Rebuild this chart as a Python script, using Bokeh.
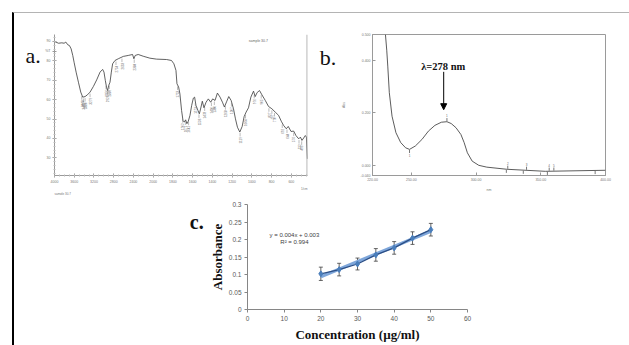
import numpy as np
from bokeh.plotting import figure
from bokeh.layouts import row, column
from bokeh.models import (ColumnDataSource, Label, Whisker, TeeHead, Title, Span,
                          FixedTicker, Arrow, NormalHead, Range1d, NumeralTickFormatter)
from bokeh.embed import file_html
from bokeh.resources import INLINE
from bokeh.core.properties import value

# ---------------- panel a: FTIR spectrum ----------------
ir_wavenumber = [4000, 3919, 3852, 3805, 3771, 3731, 3697, 3663, 3630, 3603, 3562, 3515, 3468, 3428,
                 3380, 3333, 3279, 3212, 3145, 3077, 3024, 2997, 2970, 2943, 2923, 2902, 2875, 2848,
                 2822, 2774, 2707, 2606, 2505, 2418, 2391, 2364, 2303, 2202, 2067, 1966, 1864, 1814,
                 1790, 1769, 1759, 1742, 1729, 1712, 1698, 1685, 1671, 1658, 1644, 1627, 1610, 1593,
                 1580, 1566, 1546, 1532, 1515, 1502, 1485, 1464, 1441, 1417, 1397, 1373, 1349, 1322,
                 1298, 1278, 1254, 1234, 1210, 1186, 1166, 1146, 1122, 1098, 1078, 1058, 1034, 1010,
                 983, 966, 946, 922, 898, 864, 831, 797, 763, 729, 702, 678, 651, 631, 603, 576, 553,
                 525, 508, 492, 475, 458, 447, 437]
ir_transmittance = [90.0, 89.1, 89.3, 89.1, 89.7, 88.3, 87.9, 86.2, 82.8, 79.3, 74.2, 69.0, 63.9, 61.3,
                    61.6, 62.5, 63.9, 66.8, 70.2, 74.2, 75.6, 74.2, 69.9, 66.1, 64.7, 67.3, 69.0, 74.2,
                    78.5, 80.2, 81.1, 82.3, 82.8, 83.3, 81.1, 82.8, 83.3, 82.4, 81.4, 80.9, 80.7, 80.2,
                    78.5, 75.1, 68.2, 66.5, 63.0, 54.4, 49.3, 48.4, 49.6, 47.6, 48.9, 51.9, 57.0, 60.8,
                    61.3, 57.0, 54.4, 52.7, 56.2, 59.2, 55.8, 58.7, 60.4, 58.7, 60.4, 59.6, 63.4, 61.3,
                    58.7, 56.2, 59.2, 61.6, 59.6, 55.3, 50.1, 45.8, 43.3, 46.2, 51.3, 53.6, 55.8, 61.3,
                    64.4, 61.6, 63.7, 64.7, 62.5, 59.6, 56.5, 55.3, 53.6, 51.9, 48.9, 46.7, 45.0, 46.2,
                    43.6, 43.8, 41.5, 39.8, 40.7, 39.0, 40.2, 41.5, 40.7, 29.5]
ir_peak_wavenumbers = [3448, 3415, 3380, 3279, 2956, 2929, 2889, 2754, 2633, 2384, 1753, 1702, 1671,
                       1641, 1573, 1536, 1478, 1410, 1380, 1268, 1207, 1119, 1064, 976, 905, 827, 797,
                       770, 692, 644, 576, 522, 495]
ir_tick_wavenumbers = [4000, 3600, 3200, 2800, 2400, 2000, 1800, 1600, 1400, 1200, 1000, 800, 600]
ir_tick_transmittance = [30, 40, 50, 60, 70, 80, 85, 90]

# ---------------- panel b: UV spectrum ----------------
uv_wavelength = [230.0, 231.0, 231.8, 233.0, 235.1, 238.1, 241.8, 245.6, 248.6, 253.1, 258.2, 263.2,
                 268.2, 273.2, 277.5, 280.8, 284.5, 288.3, 290.8, 293.3, 297.0, 302.1, 308.3, 323.4,
                 353.5, 400.0]
uv_absorbance = [0.50, 0.44, 0.379, 0.277, 0.187, 0.124, 0.086, 0.066, 0.060, 0.073, 0.098, 0.130,
                 0.152, 0.164, 0.166, 0.159, 0.143, 0.117, 0.086, 0.047, 0.015, -0.001, -0.008, -0.016,
                 -0.024, -0.020]
uv_peak_wavelength = [277.5, 324.5, 339.0, 356.5, 360.1]
uv_valley_wavelength = [248.6, 323.4, 336.5, 355.1, 392.0]
uv_xticks = [220, 250, 300, 350, 400]
uv_yticks = [-0.04, 0.0, 0.2, 0.4, 0.5]

# ---------------- panel c: calibration curve ----------------
concentration = [20, 25, 30, 35, 40, 45, 50]
absorbance = [0.102, 0.114, 0.130, 0.156, 0.176, 0.204, 0.228]
abs_sd = [0.019, 0.018, 0.017, 0.018, 0.018, 0.018, 0.018]
c_xticks = [0, 10, 20, 30, 40, 50, 60]
c_yticks = [0, 0.05, 0.1, 0.15, 0.2, 0.25, 0.3]

SERIF = "Liberation Serif"
SANS = "Liberation Sans"
AX = "#9a9a9a"

# frames of plots in one row share the same top/bottom borders
TOP_ROW_BORDER_TOP, TOP_ROW_BORDER_BOTTOM = 21, 20
BOT_ROW_BORDER_TOP, BOT_ROW_BORDER_BOTTOM = 9, 36


def ir_pos(wn):
    # FTIR x axis: 4000-2000 at half scale, 2000-400 at full scale
    return np.interp(-np.asarray(wn, dtype=float), [-4000, -2000, -400], [0, 5, 13])


def letter_fig(x0, w, y0, h, bt, bb, x, y, txt, size, style):
    # frame spans the page region [x0, x0+w] x [y0+bt, y0+h-bb]; ranges given in page pixels
    f = figure(width=w, height=h, x_range=Range1d(x0, x0 + w),
               y_range=Range1d(y0 + h - bb, y0 + bt), title=None,
               x_axis_type=None, y_axis_type=None, output_backend="svg",
               toolbar_location=None, min_border_left=0, min_border_right=0,
               min_border_top=bt, min_border_bottom=bb)
    f.outline_line_color = None
    f.add_layout(Label(x=x, y=y, text=txt, text_font=SERIF, text_font_size=size,
                       text_font_style=style, text_color="#111111", text_align="left",
                       text_baseline="alphabetic"))
    return f


# ======== letters ========
la = letter_fig(14, 28, 13, 182, TOP_ROW_BORDER_TOP, TOP_ROW_BORDER_BOTTOM, 25, 54.5, "a.", "22px", "normal")
lb = letter_fig(312, 26, 13, 182, TOP_ROW_BORDER_TOP, TOP_ROW_BORDER_BOTTOM, 319.3, 56.7, "b.", "22px", "normal")
lc = letter_fig(14, 190, 195, 150, BOT_ROW_BORDER_TOP, BOT_ROW_BORDER_BOTTOM, 189.3, 221.7, "c.", "20px", "bold")

# ======== figure a ========
pa = figure(width=270, height=182, x_range=Range1d(0, 12.82), y_range=Range1d(20.9, 93.6),
            title=None, output_backend="svg", toolbar_location=None,
            min_border_left=12, min_border_right=5,
            min_border_top=TOP_ROW_BORDER_TOP, min_border_bottom=TOP_ROW_BORDER_BOTTOM)
pa.outline_line_color = None
pa.grid.visible = False

ir_x = ir_pos(ir_wavenumber)
pa.line(ir_x, ir_transmittance, line_color="#3a3a3a", line_width=0.8)

pk_x = ir_pos(ir_peak_wavenumbers)
pk_y = np.interp(pk_x, ir_x, ir_transmittance)
pa.segment(x0=pk_x, y0=pk_y - 0.8, x1=pk_x, y1=pk_y - 2.6, line_color="#777777", line_width=0.5)
pa.text(x=pk_x, y=pk_y - 3.0, text=[str(w) for w in ir_peak_wavenumbers], angle=np.pi / 2,
        text_font=value(SANS), text_font_size="3px", text_color="#666666",
        text_align="right", text_baseline="middle")
pa.add_layout(Span(location=12.80, dimension="height", line_color=AX, line_width=1))

xt = [int(round(v)) for v in ir_pos(ir_tick_wavenumbers)]
pa.xaxis.ticker = FixedTicker(ticks=xt, minor_ticks=list(np.arange(0, 12.82, 0.25)))
pa.xaxis.major_label_overrides = {t: str(w) for t, w in zip(xt, ir_tick_wavenumbers)}
pa.yaxis.ticker = FixedTicker(ticks=ir_tick_transmittance, minor_ticks=list(range(22, 94, 2)))
pa.yaxis.major_label_overrides = {85: "%T"}
for ax in (pa.xaxis[0], pa.yaxis[0]):
    ax.axis_line_color = AX
    ax.major_tick_line_color = AX
    ax.minor_tick_line_color = "#bbbbbb"
    ax.major_tick_in = 2
    ax.major_tick_out = 2
    ax.minor_tick_in = 1
    ax.minor_tick_out = 1
    ax.major_label_text_font = SANS
    ax.major_label_text_font_size = "3.5px"
    ax.major_label_text_color = "#777777"
    ax.major_label_standoff = 2
pa.add_layout(Title(text="1/cm", align="right", text_font=SANS, text_font_size="3px",
                    text_font_style="normal", text_color="#777777", standoff=0), "below")
pa.add_layout(Title(text="sample 30.7", align="left", text_font=SANS, text_font_size="3px",
                    text_font_style="normal", text_color="#777777", standoff=0), "below")
pa.add_layout(Label(x=10.33, y=90, text="sample 30.7", text_font=SANS, text_font_size="3.5px",
                    text_align="center", text_baseline="middle", text_color="#666666"))

# ======== figure b ========
pb = figure(width=291, height=182, x_range=Range1d(220, 400), y_range=Range1d(-0.04, 0.5),
            title=None, output_backend="svg", toolbar_location=None,
            min_border_left=28, min_border_right=24,
            min_border_top=TOP_ROW_BORDER_TOP, min_border_bottom=TOP_ROW_BORDER_BOTTOM)
pb.outline_line_color = AX
pb.grid.visible = False
pb.line(uv_wavelength, uv_absorbance, line_color="#4a4a4a", line_width=0.9)

pv_y = np.interp(uv_valley_wavelength, uv_wavelength, uv_absorbance)
pb.segment(x0=uv_valley_wavelength, y0=pv_y - 0.002, x1=uv_valley_wavelength, y1=pv_y - 0.014,
           line_color="#555555", line_width=0.8)
pp_y = np.interp(uv_peak_wavelength, uv_wavelength, uv_absorbance)
pb.segment(x0=uv_peak_wavelength, y0=pp_y + 0.002, x1=uv_peak_wavelength, y1=pp_y + 0.014,
           line_color="#555555", line_width=0.8)
pb.text(x=uv_peak_wavelength, y=pp_y + 0.018, text=[str(i + 1) for i in range(len(uv_peak_wavelength))],
        text_font=value(SANS), text_font_size="3px", text_color="#666666",
        text_align="center", text_baseline="bottom")
pb.text(x=uv_valley_wavelength[:1], y=pv_y[:1] - 0.018, text=["1"],
        text_font=value(SANS), text_font_size="3px", text_color="#666666",
        text_align="center", text_baseline="top")

pb.xaxis.ticker = FixedTicker(ticks=uv_xticks)
pb.xaxis.formatter = NumeralTickFormatter(format="0.00")
pb.yaxis.ticker = FixedTicker(ticks=uv_yticks)
pb.yaxis.formatter = NumeralTickFormatter(format="0.000")
pb.xaxis.axis_label = "nm"
pb.yaxis.axis_label = "Abs"
for ax in (pb.xaxis[0], pb.yaxis[0]):
    ax.axis_line_color = AX
    ax.major_tick_line_color = AX
    ax.minor_tick_line_color = None
    ax.major_tick_in = 3
    ax.major_tick_out = 0
    ax.major_label_text_font = SANS
    ax.major_label_text_font_size = "3.5px"
    ax.major_label_text_color = "#777777"
    ax.major_label_standoff = 2
    ax.axis_label_text_font = SANS
    ax.axis_label_text_font_size = "3.5px"
    ax.axis_label_text_font_style = "normal"
    ax.axis_label_text_color = "#777777"
pb.yaxis.axis_label_standoff = 12
pb.xaxis.axis_label_standoff = 4
pb.add_layout(Label(x=274.6, y=0.379, text="λ=278 nm", text_font=SERIF, text_font_size="10.5px",
                    text_font_style="bold", text_align="center", text_baseline="middle",
                    text_color="#111111"))
pb.add_layout(Arrow(x_start=275.0, y_start=0.357, x_end=275.0, y_end=0.212, line_width=1,
                    line_color="black",
                    end=NormalHead(size=6, fill_color="black", line_color="black")))

# ======== figure c ========
pc = figure(width=425, height=150, x_range=Range1d(0, 60), y_range=Range1d(0, 0.3),
            title=None, output_backend="svg", toolbar_location=None,
            min_border_left=43, min_border_right=162,
            min_border_top=BOT_ROW_BORDER_TOP, min_border_bottom=BOT_ROW_BORDER_BOTTOM)
pc.outline_line_color = None
pc.grid.visible = False

coef = np.polyfit(concentration, absorbance, 1)
trend_x = [min(concentration), max(concentration)]
trend_y = list(np.polyval(coef, trend_x))
pc.line(trend_x, trend_y, line_color="#7ea6da", line_width=3.2)
src = ColumnDataSource(dict(x=concentration, y=absorbance,
                            upper=[a + s for a, s in zip(absorbance, abs_sd)],
                            lower=[a - s for a, s in zip(absorbance, abs_sd)]))
pc.add_layout(Whisker(base="x", upper="upper", lower="lower", source=src,
                      line_color="#3f3f3f", line_width=0.8,
                      upper_head=TeeHead(size=4, line_color="#3f3f3f", line_width=0.8),
                      lower_head=TeeHead(size=4, line_color="#3f3f3f", line_width=0.8)))
pc.line("x", "y", source=src, line_color="#2c4f86", line_width=1.3)
pc.scatter("x", "y", source=src, marker="diamond", size=6, fill_color="#4a7ebb",
           line_color="#4a7ebb")

pc.xaxis.ticker = FixedTicker(ticks=c_xticks)
pc.yaxis.ticker = FixedTicker(ticks=c_yticks)
pc.yaxis.formatter = NumeralTickFormatter(format="0.[00]")
pc.xaxis.axis_label = "Concentration (µg/ml)"
pc.yaxis.axis_label = "Absorbance"
for ax in (pc.xaxis[0], pc.yaxis[0]):
    ax.axis_line_color = "#868686"
    ax.major_tick_line_color = "#868686"
    ax.minor_tick_line_color = None
    ax.major_tick_in = 0
    ax.major_tick_out = 3
    ax.major_label_text_font = SANS
    ax.major_label_text_font_size = "6.5px"
    ax.major_label_text_color = "#595959"
    ax.major_label_standoff = 3
    ax.axis_label_text_font = SERIF
    ax.axis_label_text_font_size = "13px"
    ax.axis_label_text_font_style = "bold"
    ax.axis_label_text_color = "#111111"
pc.xaxis.axis_label_standoff = 3
pc.yaxis.axis_label_standoff = 1
pc.add_layout(Label(x=12.8, y=0.214, text="y = 0.004x + 0.003", text_font=SANS,
                    text_font_size="6px", text_align="center", text_baseline="middle",
                    text_color="#404040"))
pc.add_layout(Label(x=12.8, y=0.192, text="R² = 0.994", text_font=SANS,
                    text_font_size="6px", text_align="center", text_baseline="middle",
                    text_color="#404040"))

layout = column(row(la, pa, lb, pb, spacing=0), row(lc, pc, spacing=0), spacing=0,
                margin=(12, 0, 0, 12),
                styles={"border-left": "2px solid #000000", "border-top": "1px solid #b4b4b4"})

open("out.html", "w").write(file_html(layout, INLINE))
